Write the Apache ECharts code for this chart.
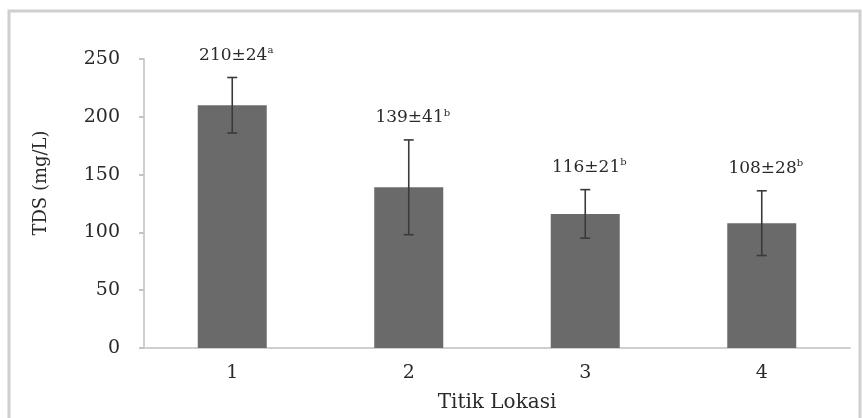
<!DOCTYPE html>
<html>
<head>
<meta charset="utf-8">
<script src="https://cdn.jsdelivr.net/npm/echarts@6/dist/echarts.min.js"></script>
<style>
  html, body { margin: 0; padding: 0; background: #fff; }
  #chart { width: 862px; height: 418px; }
</style>
</head>
<body>
<div id="chart"></div>
<script>
// data
const categories = ["1", "2", "3", "4"];
const means = [210, 139, 116, 108];
const sds = [24, 41, 21, 28];
const letters = ["a", "b", "b", "b"];
const yTicks = { min: 0, max: 250, interval: 50 };

const serif = "'DejaVu Serif', 'Liberation Serif', serif";

const myChart = echarts.init(document.getElementById("chart"));

function renderErrorBar(params, api) {
  const i = api.value(0);
  const m = api.value(1);
  const s = api.value(2);
  const hi = api.coord([i, m + s]);
  const lo = api.coord([i, m - s]);
  const x = hi[0];
  const cap = 5;
  const lineStyle = { stroke: "#3a3a3a", lineWidth: 1.6 };
  return {
    type: "group",
    children: [
      { type: "line", shape: { x1: x, y1: hi[1], x2: x, y2: lo[1] }, style: lineStyle },
      { type: "line", shape: { x1: x - cap, y1: hi[1], x2: x + cap, y2: hi[1] }, style: lineStyle },
      { type: "line", shape: { x1: x - cap, y1: lo[1], x2: x + cap, y2: lo[1] }, style: lineStyle },
      {
        type: "text",
        x: x + 4,
        y: hi[1] - 22,
        style: {
          text: "{v|" + m + "±" + s + "}{s|" + letters[params.dataIndex] + "}",
          align: "center",
          verticalAlign: "middle",
          rich: {
            v: { fontFamily: serif, fontSize: 17, fill: "#2a2a2a", lineHeight: 20 },
            s: { fontFamily: serif, fontSize: 10, fill: "#2a2a2a", verticalAlign: "top", lineHeight: 20 }
          }
        }
      }
    ]
  };
}

const option = {
  backgroundColor: "#fff",
  animation: false,
  grid: { left: 144, right: 12, top: 59, bottom: 66 },
  xAxis: {
    type: "category",
    data: categories,
    name: "Titik Lokasi",
    nameLocation: "middle",
    nameGap: 45,
    nameTextStyle: { fontFamily: serif, fontSize: 20, color: "#2a2a2a" },
    axisLine: { lineStyle: { color: "#cfcfcf", width: 2 } },
    axisTick: { length: 5, lineStyle: { color: "#c4c4c4", width: 2 } },
    axisLabel: { fontFamily: serif, fontSize: 19, color: "#2a2a2a", margin: 16 }
  },
  yAxis: {
    type: "value",
    min: yTicks.min,
    max: yTicks.max,
    interval: yTicks.interval,
    axisLine: { show: true, lineStyle: { color: "#cfcfcf", width: 2 } },
    axisTick: { show: true, length: 5, lineStyle: { color: "#c4c4c4", width: 2 } },
    axisLabel: { fontFamily: serif, fontSize: 19, color: "#2a2a2a", margin: 24 },
    splitLine: { show: false }
  },
  graphic: [
    {
      type: "rect",
      z: -1,
      shape: { x: 9, y: 11, width: 851, height: 430 },
      style: { fill: "none", stroke: "#cfcfcf", lineWidth: 3 }
    },
    {
      type: "text",
      x: 41,
      y: 183,
      rotation: Math.PI / 2,
      style: {
        text: "TDS (mg/L)",
        fontFamily: serif,
        fontSize: 18,
        fill: "#2a2a2a",
        align: "center",
        verticalAlign: "middle"
      }
    }
  ],
  series: [
    {
      type: "bar",
      data: means,
      barWidth: 69,
      itemStyle: { color: "#6a6a6a" }
    },
    {
      type: "custom",
      renderItem: renderErrorBar,
      data: categories.map((c, i) => [i, means[i], sds[i]]),
      z: 3
    }
  ]
};

myChart.setOption(option);
</script>
</body>
</html>
